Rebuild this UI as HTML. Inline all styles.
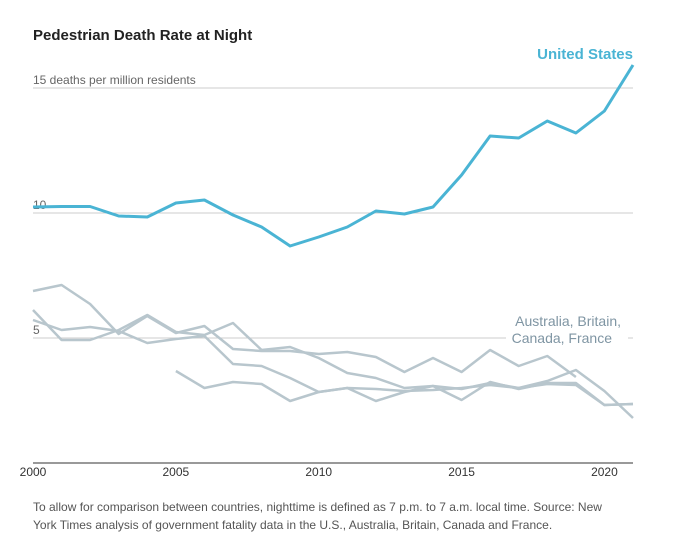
<!DOCTYPE html>
<html><head><meta charset="utf-8"><style>
body{margin:0;background:#fff;width:684px;height:542px;overflow:hidden;font-family:"Liberation Sans",sans-serif}
</style></head><body>
<svg width="684" height="542">
<text x="33" y="40" font-size="15" font-weight="bold" fill="#222">Pedestrian Death Rate at Night</text>
<g id="grid"></g><g id="lines"></g>
<text x="633" y="59" text-anchor="end" font-size="15" font-weight="bold" fill="#4ab4d4">United States</text>
<rect x="506" y="312" width="122" height="36" fill="#fff"/>
<text x="621" y="326" text-anchor="end" font-size="14" fill="#7f95a3">Australia, Britain,</text>
<text x="612" y="343" text-anchor="end" font-size="14" fill="#7f95a3">Canada, France</text>
<text x="33" y="511" font-size="12" fill="#555">To allow for comparison between countries, nighttime is defined as 7 p.m. to 7 a.m. local time. Source: New</text>
<text x="33" y="529" font-size="12" fill="#555">York Times analysis of government fatality data in the U.S., Australia, Britain, Canada and France.</text>
</svg>
<script>
const years=[2000,2001,2002,2003,2004,2005,2006,2007,2008,2009,2010,2011,2012,2013,2014,2015,2016,2017,2018,2019,2020,2021];
const usValues=[10.24,10.26,10.26,9.88,9.84,10.4,10.52,9.92,9.44,8.68,9.04,9.44,10.08,9.96,10.24,11.52,13.08,13,13.68,13.2,14.08,15.92];
const otherA=[6.88,7.12,6.36,5.16,5.88,5.2,5.48,4.56,4.48,4.48,4.36,4.44,4.24,3.64,4.2,3.64,4.52,3.88,4.28,3.44,null,null];
const otherB=[6.12,4.92,4.92,5.32,5.92,5.24,5.12,5.6,4.52,4.64,4.2,3.6,3.4,3,3.08,2.96,3.2,3,3.28,3.72,2.88,1.8];
const otherC=[5.72,5.32,5.44,5.28,4.8,4.96,5.08,3.96,3.88,3.4,2.84,3,2.96,2.88,2.92,3,3.12,3,3.16,3.12,2.32,2.36];
const otherD=[null,null,null,null,null,3.68,3,3.24,3.16,2.48,2.84,3,2.48,2.84,3.08,2.52,3.24,2.96,3.2,3.2,2.32,2.36];
const yTicks=[0,5,10,15];
const xTicks=[2000,2005,2010,2015,2020];
const NS='http://www.w3.org/2000/svg';
const x=v=>33+(v-2000)*600/21;
const y=v=>463-v*25;
const grid=document.getElementById('grid'),lines=document.getElementById('lines');
function mk(t,a,p){const e=document.createElementNS(NS,t);for(const k in a)e.setAttribute(k,a[k]);p.appendChild(e);return e;}
yTicks.forEach(t=>{
 const l=mk('line',{x1:33,x2:633,y1:y(t),y2:y(t),stroke:t===0?'#333':'#ccc','stroke-width':1},grid);
 
 
 if(t>0){const tx=mk('text',{x:33,y:y(t)-4,'font-size':12,fill:'#666'},grid);
 tx.textContent=t===15?'15 deaths per million residents':String(t);
 
 }
});
xTicks.forEach(t=>{
 const tx=mk('text',{x:x(t),y:476,'font-size':12,fill:'#333','text-anchor':'middle'},grid);
 tx.textContent=t;
 
 
});
function draw(vals,color,w,name){
 let d='',pen=false;
 vals.forEach((v,i)=>{if(v==null){pen=false;return;}d+=(pen?'L':'M')+x(years[i]).toFixed(1)+','+y(v).toFixed(1);pen=true;});
 const p=mk('path',{d:d,fill:'none',stroke:color,'stroke-width':w,'stroke-linejoin':'round'},lines);
 
 
}
draw(otherA,'#b8c6cd',2.5,'line-other-a');
draw(otherB,'#b8c6cd',2.5,'line-other-b');
draw(otherC,'#b8c6cd',2.5,'line-other-c');
draw(otherD,'#b8c6cd',2.5,'line-other-d');
draw(usValues,'#4ab4d4',3,'line-united-states');
</script>
</body></html>
